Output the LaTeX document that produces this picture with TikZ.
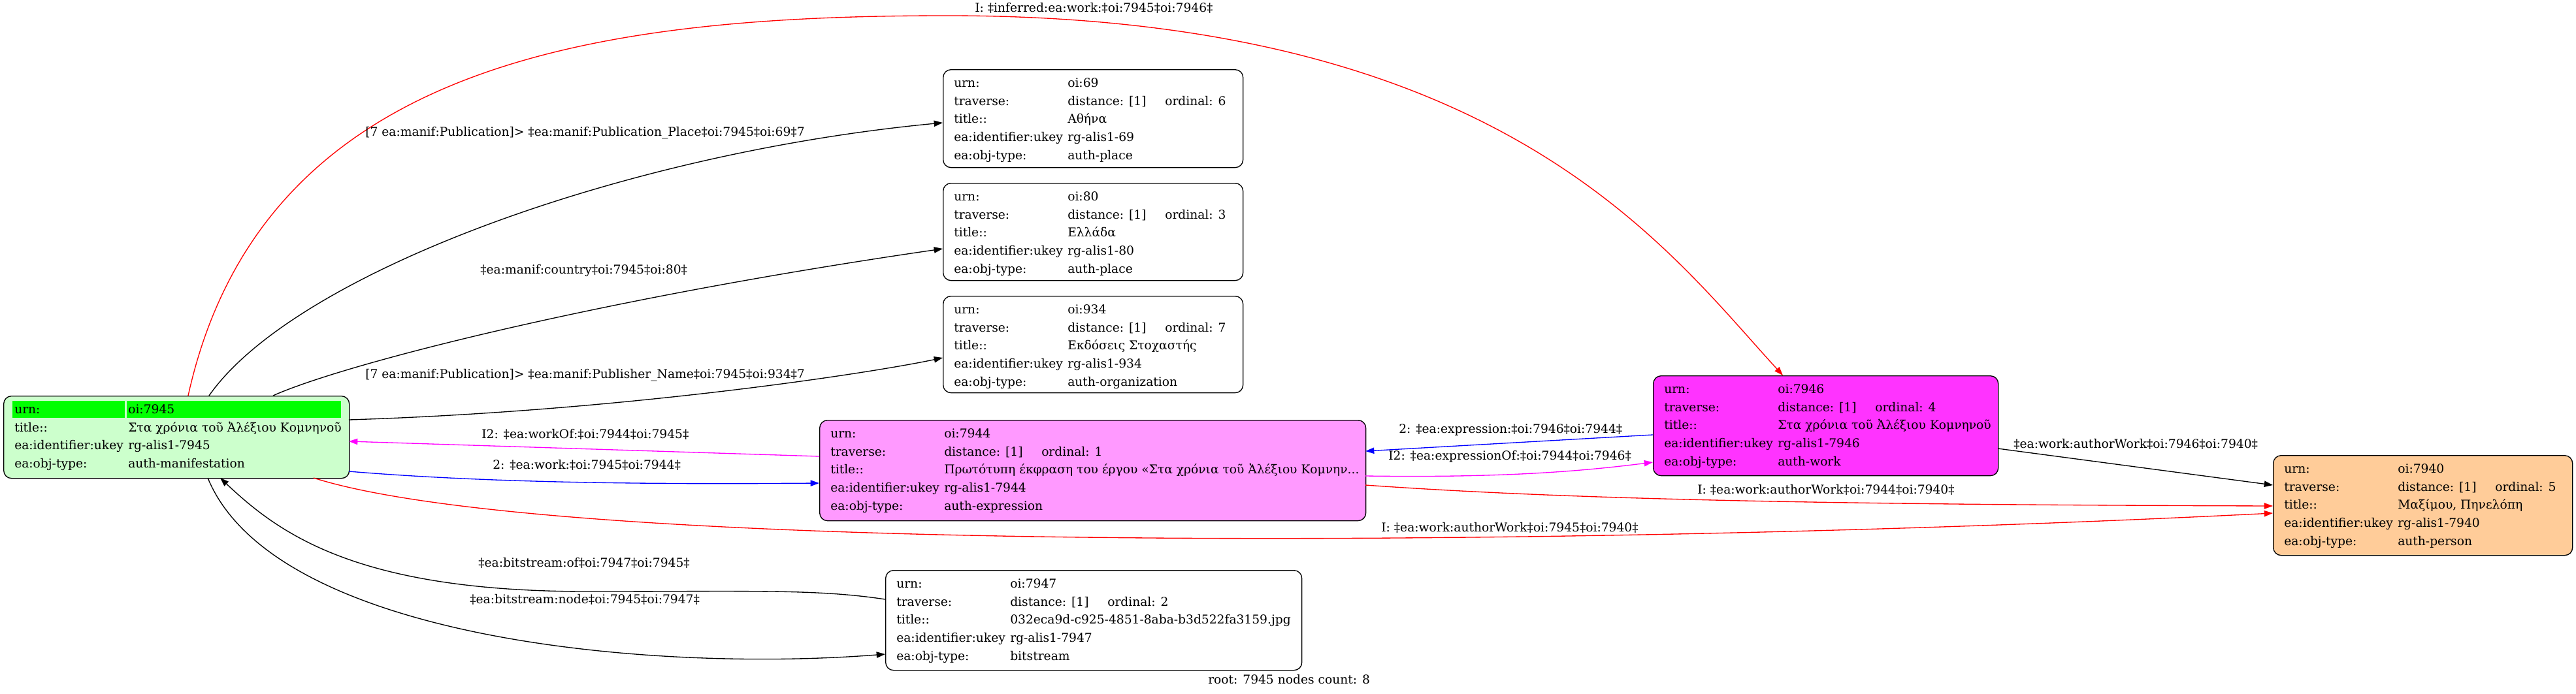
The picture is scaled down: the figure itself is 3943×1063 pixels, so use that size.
\documentclass[tikz,border=0pt]{standalone}
\usepackage{fontspec}
\setmainfont{DejaVu Serif}
\usetikzlibrary{arrows.meta,calc}
\definecolor{cgreen}{HTML}{CCFFCC}
\definecolor{hdrgreen}{HTML}{00FF00}
\definecolor{cpink}{HTML}{FF99FF}
\definecolor{cmag}{HTML}{FF33FF}
\definecolor{corange}{HTML}{FFCC99}
\definecolor{ered}{HTML}{FF0000}
\definecolor{eblue}{HTML}{0000FF}
\definecolor{emag}{HTML}{FF00FF}
\newcommand{\kvrow}[2]{\makebox[130.5pt][l]{#1}#2}
\newcommand{\travrow}[1]{\makebox[130.5pt][l]{traverse:}\makebox[111.75pt][l]{distance: [1]}ordinal: #1}
\begin{document}
\begin{tikzpicture}[x=0.75pt,y=-0.75pt,
  font=\fontsize{14}{20.85}\selectfont,
  box/.style={draw, line width=1pt, rounded corners=9pt, anchor=north west, inner sep=0pt},
  boxtext/.style={anchor=north west, inner xsep=12.75pt, inner ysep=5.625pt},
  lbl/.style={anchor=base west, inner sep=0pt},
  conn/.style={line width=1pt, -{Triangle[length=10pt,width=7pt]}}]
\useasboundingbox (0,0) rectangle (3943,1063);

% boxes
\node[box, fill=cgreen, minimum width=396.75pt, minimum height=94.5pt] (n7945) at (5,606) {};
\node[box, fill=cpink, minimum width=627pt, minimum height=115.5pt] (n7944) at (1254,643) {};
\node[box, fill=cmag, minimum width=396pt, minimum height=114.75pt] (n7946) at (2530,575) {};
\node[box, fill=corange, minimum width=343.5pt, minimum height=114.75pt] (n7940) at (3479,697) {};
\node[box, fill=white, minimum width=344.25pt, minimum height=112.5pt] (n69) at (1443,106) {};
\node[box, fill=white, minimum width=344.25pt, minimum height=111.75pt] (n80) at (1443,280) {};
\node[box, fill=white, minimum width=344.25pt, minimum height=111pt] (n934) at (1443,453) {};
\node[box, fill=white, minimum width=477.75pt, minimum height=114.75pt] (n7947) at (1355,873) {};

% header cells of the root node
\fill[hdrgreen] (19,614) rectangle (191,640);
\fill[hdrgreen] (194,614) rectangle (522,640);

% box contents
\node[boxtext] (t7945) at (n7945.north west) {\begin{tabular}{@{}l@{}}
\kvrow{urn:}{oi:7945}\\
\kvrow{title::}{Στα χρόνια τοῦ Ἀλέξιου Κομνηνοῦ}\\
\kvrow{ea:identifier:ukey}{rg-alis1-7945}\\
\kvrow{ea:obj-type:}{auth-manifestation}
\end{tabular}};
\node[boxtext] (t7944) at (n7944.north west) {\begin{tabular}{@{}l@{}}
\kvrow{urn:}{oi:7944}\\
\travrow{1}\\
\kvrow{title::}{Πρωτότυπη έκφραση του έργου «Στα χρόνια τοῦ Ἀλέξιου Κομνην...}\\
\kvrow{ea:identifier:ukey}{rg-alis1-7944}\\
\kvrow{ea:obj-type:}{auth-expression}
\end{tabular}};
\node[boxtext] (t7946) at (n7946.north west) {\begin{tabular}{@{}l@{}}
\kvrow{urn:}{oi:7946}\\
\travrow{4}\\
\kvrow{title::}{Στα χρόνια τοῦ Ἀλέξιου Κομνηνοῦ}\\
\kvrow{ea:identifier:ukey}{rg-alis1-7946}\\
\kvrow{ea:obj-type:}{auth-work}
\end{tabular}};
\node[boxtext] (t7940) at (n7940.north west) {\begin{tabular}{@{}l@{}}
\kvrow{urn:}{oi:7940}\\
\travrow{5}\\
\kvrow{title::}{Μαξίμου, Πηνελόπη}\\
\kvrow{ea:identifier:ukey}{rg-alis1-7940}\\
\kvrow{ea:obj-type:}{auth-person}
\end{tabular}};
\node[boxtext] (t69) at (n69.north west) {\begin{tabular}{@{}l@{}}
\kvrow{urn:}{oi:69}\\
\travrow{6}\\
\kvrow{title::}{Αθήνα}\\
\kvrow{ea:identifier:ukey}{rg-alis1-69}\\
\kvrow{ea:obj-type:}{auth-place}
\end{tabular}};
\node[boxtext] (t80) at (n80.north west) {\begin{tabular}{@{}l@{}}
\kvrow{urn:}{oi:80}\\
\travrow{3}\\
\kvrow{title::}{Ελλάδα}\\
\kvrow{ea:identifier:ukey}{rg-alis1-80}\\
\kvrow{ea:obj-type:}{auth-place}
\end{tabular}};
\node[boxtext] (t934) at (n934.north west) {\begin{tabular}{@{}l@{}}
\kvrow{urn:}{oi:934}\\
\travrow{7}\\
\kvrow{title::}{Εκδόσεις Στοχαστής}\\
\kvrow{ea:identifier:ukey}{rg-alis1-934}\\
\kvrow{ea:obj-type:}{auth-organization}
\end{tabular}};
\node[boxtext] (t7947) at (n7947.north west) {\begin{tabular}{@{}l@{}}
\kvrow{urn:}{oi:7947}\\
\travrow{2}\\
\kvrow{title::}{032eca9d-c925-4851-8aba-b3d522fa3159.jpg}\\
\kvrow{ea:identifier:ukey}{rg-alis1-7947}\\
\kvrow{ea:obj-type:}{bitstream}
\end{tabular}};

% connectors
\draw[conn] ($(n7945.north west)+(315,0)$) .. controls (450,420) and (950,235) .. ($(n69.north west)+(0,82)$);
\draw[conn] ($(n7945.north west)+(413,0)$) .. controls (520,560) and (900,460) .. ($(n80.north west)+(0,101)$);
\draw[conn] ($(n7945.north west)+(529,37)$) .. controls (950,630) and (1330,572) .. ($(n934.north west)+(0,95)$);
\draw[conn, eblue] ($(n7945.north west)+(529,116)$) .. controls (750,740) and (1000,742) .. ($(n7944.north west)+(0,97)$);
\draw[conn, emag] ($(n7944.north west)+(0,56)$) -- ($(n7945.north west)+(529,70)$);
\draw[conn, eblue] ($(n7946.north west)+(0,91)$) -- ($(n7944.north west)+(836,48)$);
\draw[conn, emag] ($(n7944.north west)+(836,86)$) .. controls (2300,732) and (2420,722) .. ($(n7946.north west)+(0,133)$);
\draw[conn, ered] ($(n7944.north west)+(836,100)$) .. controls (2400,765) and (2800,773) .. ($(n7940.north west)+(0,78)$);
\draw[conn, ered] ($(n7945.north west)+(475,126)$) .. controls (850,850) and (2400,840) .. ($(n7940.north west)+(0,89)$);
\coordinate (topmid) at (1450,24);
\draw[conn, ered] ($(n7945.north west)+(283,0)$) .. controls (400,100) and (900,24) .. (topmid) .. controls (2300,24) and (2550,380) .. ($(n7946.north west)+(199,0)$);
\draw[conn] ($(n7946.north west)+(528,112)$) -- ($(n7940.north west)+(0,46)$);
\coordinate (bsmid) at (900,906);
\draw[conn] ($(n7947.north west)+(0,45)$) .. controls (1250,902) and (1150,906) .. (bsmid) .. controls (550,906) and (430,820) .. ($(n7945.north west)+(332,126)$);
\draw[conn] ($(n7945.north west)+(313,126)$) .. controls (420,980) and (1000,1030) .. ($(n7947.north west)+(0,129)$);

% connector labels
\node[lbl] (l1) at (559,208) {[7 ea:manif:Publication]> ‡ea:manif:Publication\_Place‡oi:7945‡oi:69‡7};
\node[lbl] (l2) at (735,419) {‡ea:manif:country‡oi:7945‡oi:80‡};
\node[lbl] (l3) at (559,579) {[7 ea:manif:Publication]> ‡ea:manif:Publisher\_Name‡oi:7945‡oi:934‡7};
\node[lbl] (l4) at (737,671) {I2: ‡ea:workOf:‡oi:7944‡oi:7945‡};
\node[lbl] (l5) at (754,718) {2: ‡ea:work:‡oi:7945‡oi:7944‡};
\node[lbl] (l6) at (2141,663) {2: ‡ea:expression:‡oi:7946‡oi:7944‡};
\node[lbl] (l7) at (2125,704) {I2: ‡ea:expressionOf:‡oi:7944‡oi:7946‡};
\node[lbl] (l8) at (2598,756) {I: ‡ea:work:authorWork‡oi:7944‡oi:7940‡};
\node[lbl] (l9) at (2114,814) {I: ‡ea:work:authorWork‡oi:7945‡oi:7940‡};
\node[lbl] (l10) at (1492,19) {I: ‡inferred:ea:work:‡oi:7945‡oi:7946‡};
\node[lbl] (l11) at (3082,686) {‡ea:work:authorWork‡oi:7946‡oi:7940‡};
\node[lbl] (l12) at (732,868) {‡ea:bitstream:of‡oi:7947‡oi:7945‡};
\node[lbl] (l13) at (719,924) {‡ea:bitstream:node‡oi:7945‡oi:7947‡};
\node[lbl] (rootlbl) at (1849,1047) {root: 7945 nodes count: 8};
\end{tikzpicture}
\end{document}
